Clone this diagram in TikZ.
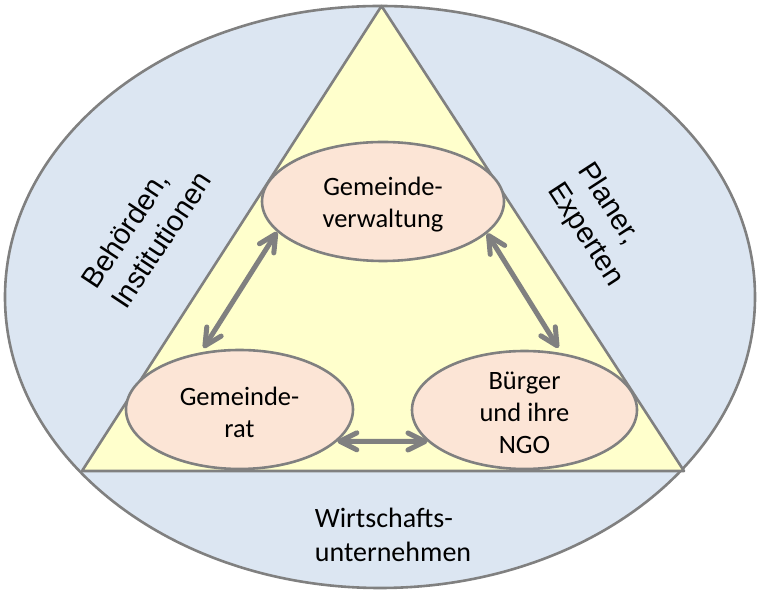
\documentclass[tikz,border=0pt]{standalone}
\usepackage{fontspec}
\setmainfont{Carlito}
\newfontfamily\arialfont{Liberation Sans}
\usetikzlibrary{shapes.geometric}
\usetikzlibrary{arrows.meta}
\definecolor{outerblue}{RGB}{220,230,242}
\definecolor{triyellow}{RGB}{255,255,204}
\definecolor{peach}{RGB}{252,229,214}
\definecolor{rimgray}{RGB}{128,128,128}

\begin{document}
\begin{tikzpicture}[x=1pt,y=1pt,
    rim/.style={draw=rimgray, line width=2.6pt},
    party/.style={ellipse, rim, fill=peach, inner sep=0pt},
    partytext/.style={align=center, inner sep=0pt, yshift=-3pt, font=\fontsize{26.5}{32}\selectfont},
    sidelabel/.style={align=left, inner sep=0pt, font=\arialfont\fontsize{29}{36}\selectfont},
    link/.style={draw=rimgray, line width=5pt, line cap=round,
      {Straight Barb[length=17pt,width=17pt,round]}-{Straight Barb[length=17pt,width=17pt,round]}}]
    \useasboundingbox (0,0) rectangle (760,591);
    \draw[rim, fill=outerblue] (380,294) ellipse [x radius=375pt, y radius=291pt];
    \draw[rim, fill=triyellow, line join=round] (381.5,585) -- (684,120) -- (82,120) -- cycle;

    \node[party, minimum width=242pt, minimum height=119pt,
      label={[partytext]center:{Gemeinde-\\verwaltung}}] (verw) at (383,389.5) {};
    \node[party, minimum width=227pt, minimum height=119pt,
      label={[partytext]center:{Gemeinde-\\rat}}] (rat) at (239.5,181.5) {};
    \node[party, minimum width=225pt, minimum height=118pt,
      label={[partytext]center:{Bürger\\und ihre\\NGO}}] (buerger) at (524.5,181) {};

    \node[sidelabel, rotate=56.5] (behoerden) at (146,361) {Behörden,\\Institutionen};
    \node[sidelabel, rotate=-57] (planer) at (600,366) {Planer,\\Experten};
    \node[align=left, inner sep=0pt, font=\fontsize{28}{34}\selectfont]
      (wirtschaft) at (393,56.6) {Wirtschafts-\\unternehmen};

    \draw[link, shorten >=5pt] (verw.196) -- (rat.124);
    \draw[link, shorten >=6pt] (verw.343) -- (buerger.57);
    \draw[link] (rat.342) -- (buerger.198);
  \end{tikzpicture}
\end{document}
